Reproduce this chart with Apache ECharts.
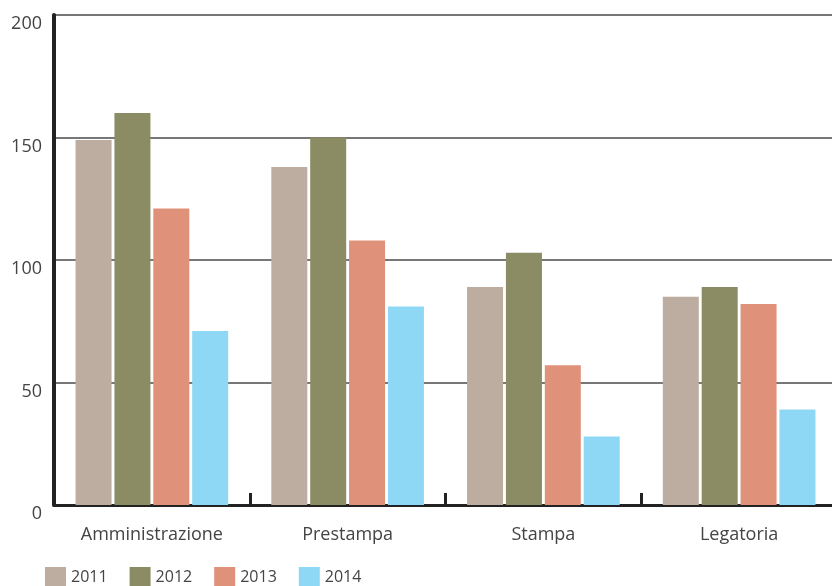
<!DOCTYPE html>
<html>
<head>
<meta charset="utf-8">
<script src="https://cdn.jsdelivr.net/npm/echarts@6/dist/echarts.min.js"></script>
<style>html,body{margin:0;padding:0;background:#fff}#c{width:832px;height:586px}</style>
</head>
<body>
<div id="c"></div>
<script>
const categories = ['Amministrazione', 'Prestampa', 'Stampa', 'Legatoria'];
const years = ['2011', '2012', '2013', '2014'];
const v2011 = [149, 138, 89, 85];
const v2012 = [160, 150, 103, 89];
const v2013 = [121, 108, 57, 82];
const v2014 = [71, 81, 28, 39];
const yTicks = [0, 50, 100, 150, 200];
const colors = ['#bcada0', '#8b8c63', '#e0917a', '#8ed7f5'];

const seriesValues = [v2011, v2012, v2013, v2014];
const chart = echarts.init(document.getElementById('c'));
const font = '"Open Sans", Roboto, sans-serif';
chart.setOption({
  animation: false,
  textStyle: { fontFamily: font },
  grid: { left: 54, top: 15, width: 783, height: 490, containLabel: false, outerBoundsMode: 'none' },
  legend: {
    left: 45, top: 567, padding: 0,
    itemWidth: 21, itemHeight: 20, itemGap: 22,
    icon: 'rect',
    textStyle: { fontSize: 16, color: '#444', fontFamily: font, padding: [3, 0, 0, 0] },
    data: years
  },
  xAxis: {
    type: 'category',
    data: categories,
    axisLine: { lineStyle: { color: '#222', width: 3 } },
    axisTick: { show: true, inside: true, length: 12, lineStyle: { color: '#222', width: 3 } },
    axisLabel: { fontSize: 18, color: '#444', margin: 21, fontFamily: font }
  },
  yAxis: {
    type: 'value',
    min: yTicks[0], max: yTicks[yTicks.length - 1], interval: 50,
    axisLine: { show: true, lineStyle: { color: '#222', width: 4 } },
    axisTick: { show: false },
    axisLabel: { fontSize: 18, color: '#444', margin: 12, verticalAlign: 'top', fontFamily: font },
    splitLine: { lineStyle: { color: '#777', width: 2 } }
  },
  series: years.map((y, i) => ({
    name: y,
    type: 'bar',
    data: seriesValues[i],
    barWidth: 36,
    barGap: '8%',
    itemStyle: { color: colors[i] }
  }))
});
</script>
</body>
</html>
